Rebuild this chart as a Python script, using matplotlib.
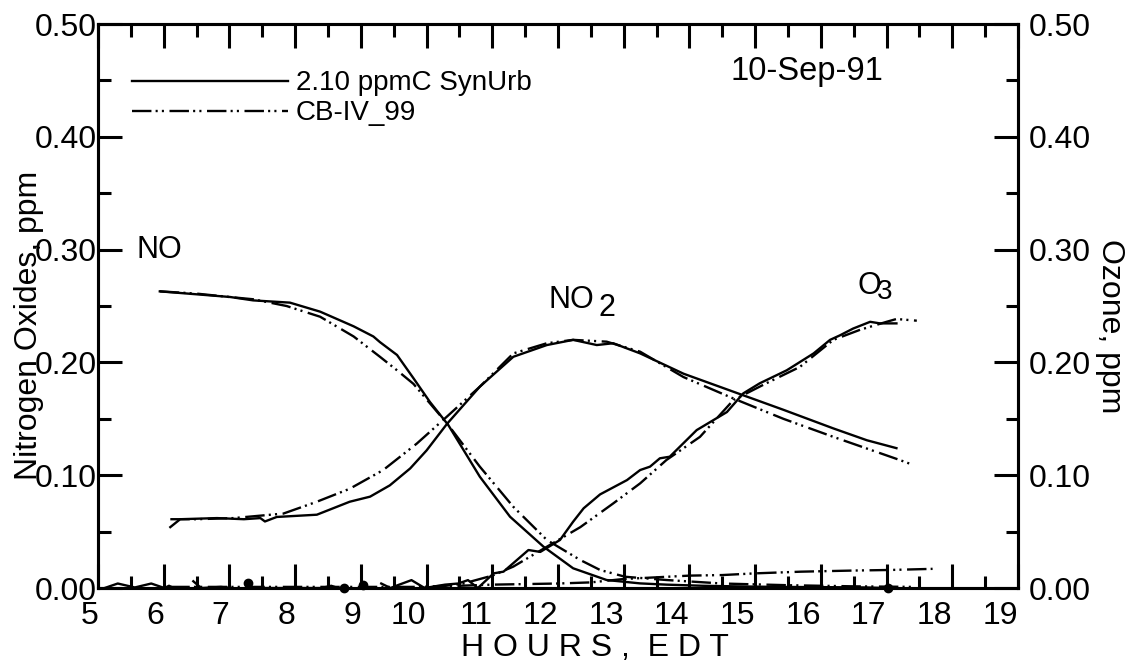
import matplotlib
matplotlib.use('Agg')
import matplotlib.pyplot as plt
import numpy as np

plt.rcParams['font.family'] = ['Liberation Sans', 'DejaVu Sans']
plt.rcParams['lines.scale_dashes'] = False

nan = np.nan

# NO, observed (solid) and CB-IV model (dash-dot-dot)
no_obs_hr = [5.94, 7.01, 7.36, 7.92, 8.38, 8.89, 9.19, 9.29, 9.55, 9.80, 10.05, 10.33,
             10.81, 11.27, 11.78, 12.23, 12.74, 13.25, 13.65, 14.2, 14.7, 15.3, 16.0, 16.7, 17.0]
no_obs = [0.263, 0.258, 0.255, 0.253, 0.245, 0.232, 0.223, 0.218, 0.2066, 0.186, 0.165, 0.1445,
          0.0987, 0.0632, 0.0366, 0.0175, 0.0071, 0.0041, 0.003, 0.002, 0.0015, 0.001, 0.0008, 0.0005, 0.0]
no_mod_hr = [5.94, 6.5, 7.0, 7.36, 7.87, 8.38, 8.89, 9.29, 9.55, 9.80, 10.33, 10.81, 11.32,
             11.83, 12.34, 12.64, 13.02, 13.65, 14.5, 15.5, 16.5, 17.41]
no_mod = [0.263, 0.261, 0.258, 0.256, 0.250, 0.2405, 0.223, 0.205, 0.193, 0.181, 0.1445, 0.1076, 0.072,
          0.0426, 0.0248, 0.016, 0.010, 0.0071, 0.004, 0.0025, 0.0015, 0.001]

# NO2
no2_obs_hr = [6.10, 6.25, 6.81, 7.22, 7.47, 7.54, 7.72, 8.33, 8.83, 9.14, 9.44, 9.75, 10.0, 10.31,
              10.81, 11.32, 11.83, 12.23, 12.59, 12.84, 13.25, 13.91, 14.67, 15.43, 16.19, 16.70, 17.15]
no2_obs = [0.054, 0.061, 0.062, 0.061, 0.062, 0.059, 0.063, 0.065, 0.0765, 0.081, 0.091, 0.106, 0.122, 0.1455,
           0.1785, 0.205, 0.2154, 0.220, 0.2154, 0.217, 0.208, 0.190, 0.174, 0.158, 0.1415, 0.131, 0.124]
no2_mod_hr = [6.10, 6.5, 7.06, 7.82, 8.33, 8.83, 9.34, 9.85, 10.31, 10.81, 11.32, 11.83, 12.23,
              12.74, 13.25, 13.91, 14.67, 15.43, 16.19, 17.2, 17.41]
no2_mod = [0.061, 0.061, 0.062, 0.066, 0.0765, 0.088, 0.1046, 0.128, 0.152, 0.1785, 0.208, 0.217, 0.220,
           0.2184, 0.2095, 0.187, 0.168, 0.150, 0.134, 0.1135, 0.109]

# O3 (right axis)
o3_obs_hr = [5.10, 5.30, 5.56, 5.81, 6.01, 6.08, 6.15, 6.3, 6.45, 6.57, 6.87, 7.02, 7.2, 7.45, 8.0,
             8.4, 8.55, 8.65, 8.8, 9.31, 9.45, 9.57, 9.77, 9.97, 10.28, 10.48, 10.63, 10.78, 11.02,
             11.17, 11.55, 11.73, 12.03, 12.23, 12.39, 12.64, 13.05, 13.25, 13.40, 13.55, 13.70, 14.11,
             14.57, 14.82, 15.07, 15.48, 15.89, 16.14, 16.29, 16.49, 16.75, 16.90, 17.15]
o3_obs = [0.0, 0.004, 0.0005, 0.004, 0.0, 0.002, 0.0, nan, 0.006, 0.0, 0.001, 0.0, nan, 0.0, 0.0,
          0.0, 0.002, 0.0, nan, 0.004, 0.0, 0.0027, 0.007, 0.0, 0.003, 0.004, 0.007, 0.0, 0.013,
          0.0145, 0.0337, 0.032, 0.0426, 0.0588, 0.0707, 0.083, 0.0957, 0.1046, 0.1076, 0.115, 0.1164, 0.140,
          0.156, 0.1726, 0.1815, 0.193, 0.208, 0.220, 0.224, 0.230, 0.236, 0.2346, 0.2346]
o3_mod_hr = [6.1, 8.0, 9.9, 10.3, 10.56, 11.0, 11.32, 11.83, 12.34, 12.84, 13.25, 13.65, 14.16,
             14.67, 15.17, 15.68, 16.19, 16.6, 17.0, 17.15, 17.46]
o3_mod = [0.001, 0.001, 0.001, 0.002, 0.004, 0.011, 0.019, 0.0366, 0.054, 0.075, 0.0928, 0.1135, 0.134,
          0.1667, 0.1815, 0.196, 0.220, 0.229, 0.236, 0.2385, 0.237]

# small model species near zero
low_mod_hr = [9.9, 10.5, 11.0, 11.5, 12.0, 12.5, 13.0, 13.5, 14.0, 14.5, 15.0, 15.7, 16.5, 17.05, 17.7]
low_mod = [0.0, 0.002, 0.003, 0.0035, 0.004, 0.005, 0.008, 0.0095, 0.011, 0.0115, 0.013, 0.0145, 0.0155,
           0.016, 0.017]

# isolated observed points
dot_hr = [7.28, 8.75, 9.03, 17.02]
dot_val = [0.0047, 0.0, 0.0027, 0.0]

dashdotdot = (0, (14, 3, 1.5, 3, 1.5, 4))
lw = 1.7
fs = 23

fig = plt.figure(figsize=(11.32, 6.67), dpi=100)
ax = fig.add_axes([0.0866, 0.1184, 0.8127, 0.8456])
ax2 = ax.twinx()

l1, = ax.plot(no_obs_hr, no_obs, color='black', lw=lw, label='2.10 ppmC SynUrb')
l2, = ax.plot(no_mod_hr, no_mod, color='black', lw=lw, ls=dashdotdot, label='CB-IV_99')
ax.plot(no2_obs_hr, no2_obs, color='black', lw=lw)
ax.plot(no2_mod_hr, no2_mod, color='black', lw=lw, ls=dashdotdot)
ax.plot(low_mod_hr, low_mod, color='black', lw=lw, ls=dashdotdot)
ax.plot(dot_hr, dot_val, 'o', color='black', ms=6, clip_on=False)
ax2.plot(o3_obs_hr, o3_obs, color='black', lw=lw)
ax2.plot(o3_mod_hr, o3_mod, color='black', lw=lw, ls=dashdotdot)

for a in (ax, ax2):
    a.set_xlim(5, 19)
    a.set_ylim(0, 0.5)
    a.set_yticks(np.arange(0, 0.51, 0.1))
    a.set_yticks(np.arange(0.05, 0.5, 0.1), minor=True)
    a.yaxis.set_major_formatter(matplotlib.ticker.FormatStrFormatter('%.2f'))
    for s in a.spines.values():
        s.set_linewidth(2.2)

ax.set_xticks(np.arange(5, 20, 1))
ax.set_xticks(np.arange(5.5, 19, 1), minor=True)
ax.tick_params(axis='x', which='both', direction='in', top=True, width=2.2, labelsize=fs, pad=9)
ax.tick_params(axis='x', which='major', length=17)
ax.tick_params(axis='x', which='minor', length=9)
for lab in ax.get_xticklabels():
    lab.set_horizontalalignment('right')
ax.tick_params(axis='y', which='both', direction='in', width=2.2, labelsize=fs, pad=1)
ax.tick_params(axis='y', which='major', length=17)
ax.tick_params(axis='y', which='minor', length=9)
ax2.tick_params(axis='y', which='both', direction='in', width=2.2, labelsize=fs, pad=8)
ax2.tick_params(axis='y', which='major', length=17)
ax2.tick_params(axis='y', which='minor', length=9)

ax.set_xlabel('H O U R S ,  E D T', fontsize=fs, labelpad=2)
ax.xaxis.label.set_x(0.54)
ax.set_ylabel('Nitrogen Oxides, ppm', fontsize=fs, labelpad=-7)
ax.yaxis.label.set_y(0.465)
ax2.set_ylabel('Ozone, ppm', fontsize=fs, rotation=270, labelpad=24)
ax2.yaxis.label.set_y(0.464)

ax.legend(handles=[l1, l2], loc='upper left', bbox_to_anchor=(0.037, 0.918), frameon=False,
          fontsize=20, handlelength=5.6, handletextpad=0.3, borderpad=0, borderaxespad=0,
          labelspacing=0.15)
ax.text(0.688, 0.915, '10-Sep-91', transform=ax.transAxes, fontsize=23.5, va='center')

ax.text(5.94, 0.30, 'NO', fontsize=22, ha='center', va='center')
ax.text(11.85, 0.255, 'NO', fontsize=22, ha='left', va='center')
ax.text(12.62, 0.248, '2', fontsize=22, ha='left', va='center')
ax2.text(16.55, 0.268, 'O', fontsize=22, ha='left', va='center')
ax2.text(16.85, 0.262, '3', fontsize=20, ha='left', va='center')

fig.savefig('out.png', dpi=100)
